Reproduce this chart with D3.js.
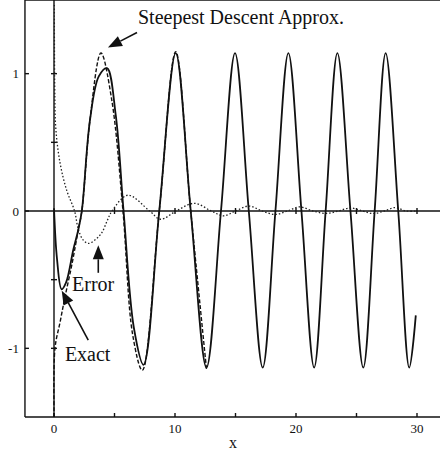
<!DOCTYPE html>
<html lang="en">
<head>
    <meta charset="utf-8">
    <title>steepest descent</title>
    <script type="text/javascript" src="https://cdnjs.cloudflare.com/ajax/libs/d3/7.8.5/d3.min.js"></script>
    <style>
      body { margin: 0; background: #fff; }
      text { font-family: "Liberation Serif", "DejaVu Serif", serif; fill: #111; }
    </style>
</head>
<body>
    <script type="text/javascript">
      //data: [x, y]
      var exactPts = [[0,0.02],[0.25,-0.35],[0.63,-0.57],[1.0,-0.52],[1.6,-0.28],[2.0,-0.14],[2.3,0],[2.97,0.66],[3.7,0.98],
                      [4.38,1.04],[5.1,0.7],[5.75,0],[6.6,-0.85],[7.4,-1.12],[8.7,0],[10.06,1.15],[11.3,0],[12.6,-1.14],
                      [13.8,0],[14.96,1.15],[16.1,0],[17.25,-1.14],[18.3,0],[19.37,1.15],[20.45,0],[21.5,-1.14],[22.45,0],
                      [23.42,1.15],[24.5,0],[25.56,-1.14],[26.5,0],[27.41,1.15],[28.45,0],[29.36,-1.14],[29.9,-0.76]];

      var approxPts = [[0.01,-1.5],[0.08,-1.0],[0.5,-0.81],[0.9,-0.63],[1.5,-0.38],[2.0,-0.14],[2.3,0],[2.97,0.66],
                       [3.88,1.15],[4.77,0.81],[5.7,0],[6.5,-0.9],[7.3,-1.16],[8.7,0],[10.06,1.16],[11.3,0],[12.6,-1.15]];

      var errorPts = [[0.03,1.5],[0.06,0.9],[0.15,0.6],[0.5,0.35],[1.05,0.15],[1.7,0],[2.0,-0.13],[2.4,-0.21],[2.84,-0.236],
                      [3.4,-0.21],[3.94,-0.16],[4.4,-0.07],[4.8,0],[6.1,0.115],[7.9,0],[8.8,-0.06],[10.1,0],[11.6,0.056],
                      [13.0,0],[14.0,-0.035],[15.0,0],[16.1,0.036],[17.2,0],[18.3,-0.025],[19.3,0],[20.3,0.03],[21.4,0],
                      [22.5,-0.018],[23.5,0],[24.5,0.022],[25.5,0],[26.4,-0.018],[27.3,0],[28.2,0.025],[29.1,0],[30,0]];

      //tick values and labels
      var xLabelTicks = [0, 10, 20, 30];
      var xMinorTicks = [0, 5, 10, 15, 20, 25, 30];
      var yLabelTicks = [1, 0, -1];
      var yAxisTicks = [1, 0.5, -0.5, -1];

      //annotations: text, anchor [x, y] in data units
      var labels = [
        {text: "Steepest Descent Approx.", at: [6.94, 1.36]},
        {text: "Error", at: [1.49, -0.585]},
        {text: "Exact", at: [0.9, -1.09]}
      ];
      //arrows: from tail to tip, in data units
      var arrows = [
        {from: [6.86, 1.30], to: [4.46, 1.19]},
        {from: [3.66, -0.45], to: [3.66, -0.25]},
        {from: [2.83, -0.94], to: [0.64, -0.58]}
      ];

      var width = 440, height = 454;

      var xScale = d3.scaleLinear().domain([0, 30]).range([54, 417]);
      var yScale = d3.scaleLinear().domain([-1.5, 1.5]).range([417, 5]);

      var svg = d3.select("body")
                  .append("svg")
                  .attr("width", width)
                  .attr("height", height);

      var left = xScale(-2.4), right = width + 2,
          top = yScale(1.5), bottom = yScale(-1.5);

      var frame = svg.append("g")
                     .attr("stroke", "#111")
                     .attr("stroke-width", 1.4);

      //open frame: left, top, bottom
      frame.append("line").attr("x1", left).attr("x2", left).attr("y1", top).attr("y2", bottom);
      frame.append("line").attr("x1", left).attr("x2", right).attr("y1", top).attr("y2", top);
      frame.append("line").attr("x1", left).attr("x2", right).attr("y1", bottom).attr("y2", bottom);

      //zero line and x = 0 line
      frame.append("line").attr("x1", left).attr("x2", right).attr("y1", yScale(0)).attr("y2", yScale(0));
      frame.append("line").attr("x1", xScale(0)).attr("x2", xScale(0)).attr("y1", top).attr("y2", bottom);

      //ticks on bottom and top edges
      xMinorTicks.forEach(function(t) {
        frame.append("line").attr("x1", xScale(t)).attr("x2", xScale(t)).attr("y1", bottom).attr("y2", bottom - 4);
        if (t > 0) {
          frame.append("line").attr("x1", xScale(t)).attr("x2", xScale(t)).attr("y1", top).attr("y2", top + 4);
          frame.append("line").attr("x1", xScale(t)).attr("x2", xScale(t)).attr("y1", yScale(0) - 3).attr("y2", yScale(0) + 3);
        }
      });

      //ticks on left edge and on the x = 0 line
      yLabelTicks.forEach(function(t) {
        frame.append("line").attr("x1", left).attr("x2", left + 4).attr("y1", yScale(t)).attr("y2", yScale(t));
      });
      yAxisTicks.forEach(function(t) {
        frame.append("line").attr("x1", xScale(0) - 3).attr("x2", xScale(0) + 3).attr("y1", yScale(t)).attr("y2", yScale(t));
      });

      //tick labels
      svg.selectAll(".xlab")
         .data(xLabelTicks)
         .enter().append("text")
         .attr("x", function(d) { return xScale(d); })
         .attr("y", bottom + 16)
         .attr("text-anchor", "middle")
         .style("font-size", "13px")
         .text(function(d) { return d; });

      svg.selectAll(".ylab")
         .data(yLabelTicks)
         .enter().append("text")
         .attr("x", left - 6)
         .attr("y", function(d) { return yScale(d) + 4.5; })
         .attr("text-anchor", "end")
         .style("font-size", "13px")
         .text(function(d) { return d; });

      svg.append("text")
         .attr("x", 233)
         .attr("y", 448)
         .attr("text-anchor", "middle")
         .style("font-size", "16px")
         .text("x");

      var line = d3.line()
                   .x(function(d) { return xScale(d[0]); })
                   .y(function(d) { return yScale(d[1]); })
                   .curve(d3.curveCatmullRom.alpha(0.5));

      //error (dotted)
      svg.append("path")
         .attr("d", line(errorPts))
         .attr("fill", "none")
         .attr("stroke", "#222")
         .attr("stroke-width", 1.3)
         .attr("stroke-dasharray", "1.5,2");

      //steepest descent approx (dashed)
      svg.append("path")
         .attr("d", line(approxPts))
         .attr("fill", "none")
         .attr("stroke", "#111")
         .attr("stroke-width", 1.4)
         .attr("stroke-dasharray", "4,2");

      //exact (solid)
      svg.append("path")
         .attr("d", line(exactPts))
         .attr("fill", "none")
         .attr("stroke", "#111")
         .attr("stroke-width", 1.8);

      //annotation text
      svg.selectAll(".note")
         .data(labels)
         .enter().append("text")
         .attr("x", function(d) { return xScale(d.at[0]); })
         .attr("y", function(d) { return yScale(d.at[1]); })
         .style("font-size", "20px")
         .text(function(d) { return d.text; });

      //arrows with filled heads
      arrows.forEach(function(a) {
        var x1 = xScale(a.from[0]), y1 = yScale(a.from[1]),
            x2 = xScale(a.to[0]), y2 = yScale(a.to[1]);
        var ang = Math.atan2(y2 - y1, x2 - x1), len = 14, half = 5.5;
        var bx = x2 - len * Math.cos(ang), by = y2 - len * Math.sin(ang);
        svg.append("line")
           .attr("x1", x1).attr("y1", y1).attr("x2", bx).attr("y2", by)
           .attr("stroke", "#111").attr("stroke-width", 1.6);
        svg.append("path")
           .attr("d", "M" + x2 + "," + y2 +
                      "L" + (bx - half * Math.sin(ang)) + "," + (by + half * Math.cos(ang)) +
                      "L" + (bx + half * Math.sin(ang)) + "," + (by - half * Math.cos(ang)) + "Z")
           .attr("fill", "#111");
      });
    </script>
</body>
</html>
